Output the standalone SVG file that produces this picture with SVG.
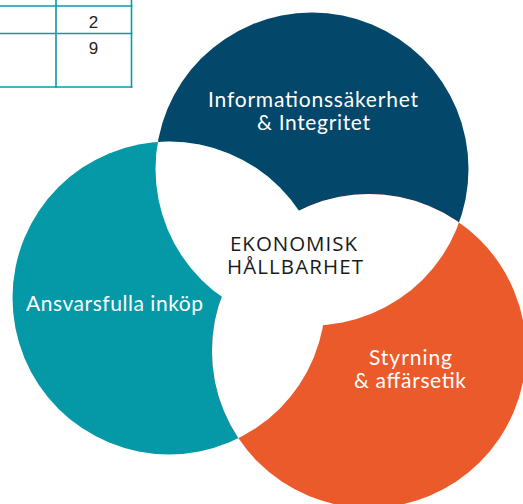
<svg xmlns="http://www.w3.org/2000/svg" width="523" height="504" viewBox="0 0 523 504">
  <style>
    .tbl { stroke: #0A9AA8; stroke-width: 1.6; fill: none; }
    .num { font-family: "Liberation Sans", Arial, sans-serif; font-size: 17px; fill: #222; text-anchor: middle; }
    .lbl { font-family: Lato, "Open Sans", sans-serif; font-size: 21px; fill: #ffffff; text-anchor: middle; }
    .ctr { font-family: "Open Sans", Lato, sans-serif; font-size: 20.5px; fill: #1a1a1a; text-anchor: middle; }
  </style>
  <defs>
    <circle id="cBlue" cx="312" cy="169" r="156.5"/>
    <circle id="cTeal" cx="169" cy="298" r="156.5"/>
    <circle id="cOrange" cx="369" cy="351" r="157"/>
    <clipPath id="clipBlue"><use href="#cBlue"/></clipPath>
    <clipPath id="clipTeal"><use href="#cTeal"/></clipPath>
    <clipPath id="clipOrange"><use href="#cOrange"/></clipPath>
  </defs>

  <g id="table">
    <line class="tbl" x1="0" y1="6" x2="132.3" y2="6"/>
    <line class="tbl" x1="0" y1="33.5" x2="132.3" y2="33.5"/>
    <line class="tbl" x1="0" y1="87" x2="132.3" y2="87"/>
    <line class="tbl" x1="56" y1="0" x2="56" y2="87.8"/>
    <line class="tbl" x1="131.5" y1="0" x2="131.5" y2="87.8"/>
    <text class="num" x="93.5" y="27.5">2</text>
    <text class="num" x="93.5" y="54">9</text>
  </g>

  <g id="node-blue">
    <use href="#cBlue" fill="#03476A"/>
  </g>
  <g id="node-teal">
    <use href="#cTeal" fill="#0598A6"/>
  </g>
  <g id="node-orange">
    <use href="#cOrange" fill="#EB5A2A"/>
  </g>

  <g id="node-center">
    <use href="#cTeal" fill="#ffffff" clip-path="url(#clipBlue)"/>
    <use href="#cOrange" fill="#ffffff" clip-path="url(#clipBlue)"/>
    <use href="#cOrange" fill="#ffffff" clip-path="url(#clipTeal)"/>
    <text class="ctr" x="293.5" y="251" textLength="127" lengthAdjust="spacing">EKONOMISK</text>
    <text class="ctr" x="295" y="274" textLength="136" lengthAdjust="spacing">HÅLLBARHET</text>
  </g>

  <g id="labels">
    <text class="lbl" x="313" y="107" textLength="210" lengthAdjust="spacing">Informationssäkerhet</text>
    <text class="lbl" x="313.5" y="130" textLength="113" lengthAdjust="spacing">&amp; Integritet</text>
    <text class="lbl" x="114.5" y="311" textLength="177" lengthAdjust="spacing">Ansvarsfulla inköp</text>
    <text class="lbl" x="410.5" y="365" textLength="83" lengthAdjust="spacing">Styrning</text>
    <text class="lbl" x="410" y="388" textLength="112" lengthAdjust="spacing">&amp; affärsetik</text>
  </g>

  <g id="connectors"></g>
</svg>
